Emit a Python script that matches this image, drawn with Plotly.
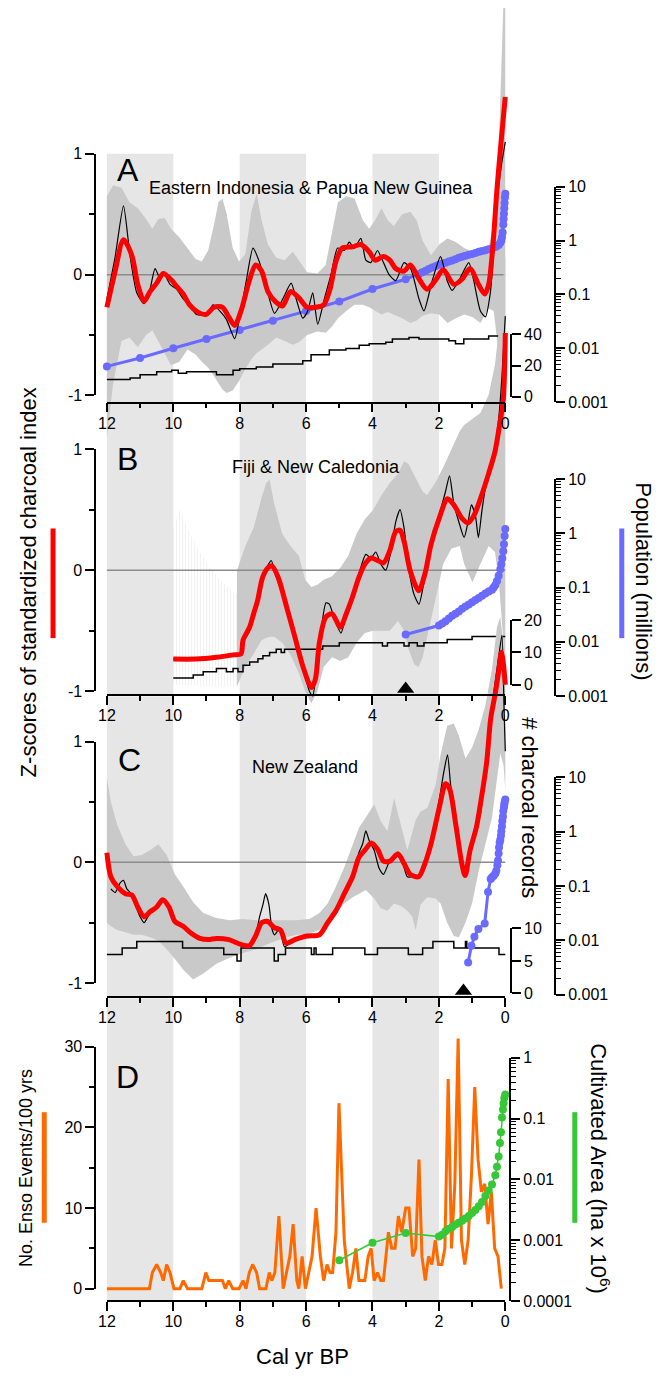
import plotly.graph_objects as go

W, H = 663, 1376

# ======================= DATA =======================
x_tick_vals = [0, 2, 4, 6, 8, 10, 12]
x_tick_text = ["0", "2", "4", "6", "8", "10", "12"]
z_tick_vals = [-1, 0, 1]
z_tick_text = ["-1", "0", "1"]
band_spans = [(12, 10), (8, 6), (4, 2)]

# ---- Panel A : Eastern Indonesia & Papua New Guinea ----
a_red_bp = [12.0, 11.75, 11.5, 11.25, 11.07, 10.88, 10.7, 10.5, 10.3, 10.07, 9.89, 9.7, 9.51, 9.26, 9.02, 8.77, 8.52, 8.33, 8.15, 7.96,
            7.71, 7.52, 7.34, 7.15, 6.9, 6.71, 6.47, 6.22, 5.97, 5.72, 5.47, 5.28, 5.1, 4.91, 4.6, 4.35, 4.1, 3.92, 3.67, 3.48,
            3.3, 3.05, 2.86, 2.61, 2.36, 2.11, 1.87, 1.55, 1.31, 1.06, 0.81, 0.62, 0.5, 0.37, 0.25, 0.12, 0.0]
a_red_z = [-0.27, 0.03, 0.29, 0.16, -0.08, -0.22, -0.14, -0.07, 0.01, -0.04, -0.10, -0.16, -0.25, -0.31, -0.33, -0.27, -0.27, -0.35, -0.42, -0.30,
           -0.05, 0.08, 0.03, -0.14, -0.23, -0.26, -0.14, -0.19, -0.27, -0.27, -0.25, -0.12, 0.11, 0.22, 0.23, 0.25, 0.19, 0.12, 0.15, 0.12,
           0.05, 0.03, 0.08, -0.03, -0.12, -0.05, 0.04, -0.08, -0.04, 0.05, -0.08, -0.16, -0.08, 0.25, 0.71, 1.12, 1.47]
a_blk_bp = [12.0, 11.75, 11.5, 11.3, 11.1, 10.88, 10.7, 10.55, 10.4, 10.3, 10.1, 9.9, 9.7, 9.5, 9.3, 9.0, 8.8, 8.6, 8.4, 8.15,
            8.0, 7.8, 7.6, 7.4, 7.2, 6.95, 6.7, 6.45, 6.3, 6.1, 5.95, 5.8, 5.65, 5.45, 5.25, 5.05, 4.85, 4.7, 4.55, 4.35,
            4.2, 4.05, 3.85, 3.7, 3.5, 3.3, 3.05, 2.85, 2.6, 2.45, 2.2, 1.95, 1.75, 1.6, 1.4, 1.1, 0.95, 0.75, 0.6, 0.45,
            0.35, 0.25, 0.12, 0.0]
a_blk_z = [-0.2, 0.15, 0.57, 0.15, -0.15, -0.24, -0.12, 0.05, -0.03, 0.02, -0.08, -0.12, -0.2, -0.26, -0.33, -0.33, -0.25, -0.3, -0.37, -0.53,
           -0.35, -0.05, 0.22, 0.1, -0.1, -0.32, -0.2, -0.07, -0.2, -0.36, -0.3, -0.15, -0.41, -0.2, 0.0, 0.22, 0.2, 0.27, 0.22, 0.3,
           0.12, 0.1, 0.2, 0.12, 0.0, -0.05, 0.1, 0.05, -0.2, -0.3, -0.05, 0.15, -0.05, -0.13, -0.05, 0.1, -0.05, -0.3, -0.35, -0.15,
           0.2, 0.6, 0.9, 1.1]
a_env_bp = [12.0, 11.81, 11.56, 11.32, 11.07, 10.82, 10.63, 10.45, 10.26, 10.07, 9.82, 9.57, 9.33, 9.14, 8.95, 8.77, 8.64, 8.52, 8.39, 8.21,
            8.02, 7.83, 7.65, 7.49, 7.34, 7.15, 6.9, 6.65, 6.4, 6.22, 5.97, 5.66, 5.41, 5.22, 5.04, 4.79, 4.54, 4.29, 4.1, 3.92,
            3.73, 3.54, 3.36, 3.11, 2.86, 2.67, 2.49, 2.24, 1.99, 1.74, 1.49, 1.24, 0.99, 0.75, 0.5, 0.35, 0.22, 0.12, 0.05, 0.0]
a_env_up = [0.65, 0.74, 0.72, 0.6, 0.55, 0.46, 0.38, 0.46, 0.47, 0.38, 0.31, 0.22, 0.13, 0.11, 0.2, 0.42, 0.6, 0.63, 0.5, 0.22,
            0.11, 0.17, 0.52, 0.67, 0.45, 0.25, 0.14, 0.12, 0.19, 0.12, 0.02, 0.01, 0.08, 0.35, 0.6, 0.65, 0.63, 0.45, 0.38, 0.45,
            0.55, 0.45, 0.4, 0.5, 0.52, 0.45, 0.28, 0.16, 0.25, 0.3, 0.27, 0.22, 0.19, 0.16, 0.22, 0.45, 0.85, 1.6, 2.3, 2.4]
a_env_lo = [-1.35, -0.9, -0.55, -0.52, -0.6, -0.5, -0.46, -0.55, -0.65, -0.75, -0.72, -0.62, -0.66, -0.72, -0.77, -0.84, -0.9, -0.95, -0.98, -0.96,
            -0.88, -0.78, -0.7, -0.65, -0.62, -0.58, -0.52, -0.55, -0.58, -0.56, -0.5, -0.47, -0.48, -0.43, -0.36, -0.3, -0.25, -0.25, -0.27, -0.3,
            -0.33, -0.31, -0.33, -0.36, -0.4, -0.38, -0.34, -0.32, -0.33, -0.4, -0.36, -0.33, -0.35, -0.4, -0.28, -0.3, -0.6, -1.0, -1.25, -1.3]
a_cnt_bp = [12.0, 11.3, 11.0, 10.5, 10.05, 9.85, 9.6, 8.7, 8.2, 8.0, 7.5, 7.0, 6.2, 6.1, 5.85, 5.3, 4.8, 4.4, 4.1, 3.6,
            3.4, 2.9, 2.6, 1.7, 1.5, 1.25, 0.5, 0.0]
a_cnt = [11, 12, 14, 16, 17, 15, 16, 14, 17, 18, 19, 21, 21, 23, 27, 30, 31, 33, 34, 35,
         37, 38, 37, 36, 34, 37, 39, 39]
a_pop_bp = [12, 11, 10, 9, 8, 7, 6, 5, 4, 3, 2.6, 2.5, 2.4, 2.3, 2.2, 2.1, 2.0, 1.9, 1.8, 1.7, 1.6, 1.5, 1.4, 1.3, 1.2, 1.1, 1.0,
            0.9, 0.8, 0.7, 0.6, 0.5, 0.4, 0.3, 0.25, 0.2, 0.15, 0.12, 0.1, 0.08, 0.06, 0.05, 0.04, 0.03, 0.02, 0.01, 0.0]
a_pop = [0.0046, 0.0066, 0.0100, 0.0148, 0.0219, 0.0324, 0.049, 0.074, 0.126, 0.191, 0.240, 0.257, 0.275, 0.295, 0.316, 0.335, 0.355,
         0.372, 0.389, 0.407, 0.427, 0.452, 0.479, 0.501, 0.525, 0.543, 0.562, 0.589, 0.617, 0.638, 0.661, 0.692, 0.724, 0.759, 0.794,
         0.832, 0.912, 1.0, 1.15, 1.41, 2.0, 2.51, 3.16, 3.98, 5.01, 6.31, 7.41]

# ---- Panel B : Fiji & New Caledonia ----
b_red_bp = [10.0, 9.33, 8.7, 8.2, 7.96, 7.9, 7.7, 7.58, 7.46, 7.31, 7.15, 7.03, 6.84, 6.59, 6.34, 6.09, 5.84, 5.72, 5.6, 5.41,
            5.22, 4.97, 4.79, 4.6, 4.41, 4.23, 4.04, 3.85, 3.67, 3.48, 3.3, 3.17, 3.05, 2.86, 2.61, 2.42, 2.24, 1.99, 1.74, 1.55,
            1.31, 1.12, 0.93, 0.75, 0.5, 0.31, 0.19, 0.06, 0.0]
b_red_z = [-0.735, -0.735, -0.72, -0.70, -0.69, -0.58, -0.47, -0.36, -0.25, -0.06, 0.02, 0.035, -0.06, -0.3, -0.55, -0.8, -0.97, -0.9, -0.6, -0.39,
           -0.36, -0.47, -0.36, -0.22, -0.06, 0.05, 0.1, 0.08, 0.06, 0.16, 0.32, 0.33, 0.24, -0.01, -0.17, -0.03, 0.21, 0.43, 0.59, 0.54,
           0.43, 0.39, 0.46, 0.59, 0.8, 0.98, 1.17, 1.41, 1.96]
b_blk_bp = [10.0, 9.33, 8.7, 8.2, 7.96, 7.9, 7.7, 7.58, 7.46, 7.31, 7.15, 7.05, 6.9, 6.6, 6.34, 6.09, 5.9, 5.8, 5.7, 5.55,
            5.4, 5.3, 5.15, 4.95, 4.8, 4.6, 4.4, 4.2, 4.05, 3.9, 3.75, 3.6, 3.45, 3.3, 3.17, 3.05, 2.9, 2.75, 2.6, 2.45,
            2.25, 2.0, 1.8, 1.68, 1.55, 1.4, 1.24, 1.12, 1.02, 0.9, 0.81, 0.7, 0.5, 0.35, 0.2, 0.1, 0.0]
b_blk_z = [-0.735, -0.735, -0.72, -0.70, -0.69, -0.6, -0.5, -0.38, -0.25, -0.04, 0.04, 0.08, -0.05, -0.3, -0.56, -0.82, -1.0, -1.04, -0.85, -0.5,
           -0.27, -0.28, -0.4, -0.52, -0.38, -0.2, -0.02, 0.13, 0.1, 0.15, 0.05, 0.0, 0.15, 0.4, 0.5, 0.35, 0.0, -0.2, -0.28, -0.1,
           0.2, 0.45, 0.65, 0.78, 0.55, 0.4, 0.27, 0.4, 0.54, 0.45, 0.27, 0.5, 0.84, 0.95, 1.25, 1.6, 2.1]
b_env_bp = [8.08, 7.83, 7.58, 7.34, 7.2, 7.1, 6.96, 6.72, 6.47, 6.22, 6.03, 5.84, 5.66, 5.47, 5.22, 4.97, 4.73, 4.48, 4.23, 3.98,
            3.73, 3.48, 3.23, 3.05, 2.92, 2.74, 2.61, 2.49, 2.36, 2.11, 1.87, 1.62, 1.37, 1.24, 0.99, 0.75, 0.5, 0.31, 0.19, 0.1, 0.0]
b_env_up = [0.0, 0.2, 0.35, 0.6, 0.72, 0.75, 0.55, 0.3, 0.2, 0.12, -0.08, -0.14, -0.12, -0.08, -0.05, 0.02, 0.12, 0.3, 0.42, 0.5,
            0.62, 0.72, 0.8, 0.9, 0.88, 0.78, 0.72, 0.65, 0.62, 0.72, 0.85, 1.0, 1.15, 1.2, 1.25, 1.3, 1.45, 1.7, 2.0, 2.3, 2.6]
b_env_lo = [-0.96, -0.8, -0.69, -0.58, -0.56, -0.55, -0.55, -0.6, -0.7, -0.85, -1.0, -1.1, -1.0, -0.8, -0.72, -0.75, -0.72, -0.6, -0.52, -0.5,
            -0.5, -0.5, -0.42, -0.5, -0.65, -0.78, -0.8, -0.72, -0.55, -0.25, 0.05, 0.18, 0.2, 0.05, -0.1, 0.05, 0.2, 0.15, -0.1, -0.4, -0.8]
b_str_bp = [10.0, 9.8, 9.5, 9.2, 8.9, 8.6, 8.3, 8.08]
b_str_up = [0.35, 0.5, 0.3, 0.15, 0.02, -0.08, -0.15, -0.2]
b_str_lo = [-0.95, -0.95, -0.95, -0.96, -0.96, -0.96, -0.96, -0.96]
b_cnt_bp = [10.0, 9.4, 9.1, 8.7, 8.4, 8.2, 8.05, 7.9, 7.7, 7.45, 7.3, 7.1, 6.9, 6.75, 6.65, 5.5, 5.0, 3.7, 3.55, 3.05,
            2.9, 2.65, 2.45, 1.75, 1.0, 0.0]
b_cnt = [2, 3, 4, 5, 4, 5, 4, 6, 7, 8, 9, 10, 11, 10, 11, 12, 13, 12, 13, 12,
         13, 12, 13, 14, 15, 15]
b_pop_bp = [3.0, 2.0, 1.9, 1.8, 1.7, 1.6, 1.5, 1.4, 1.3, 1.2, 1.1, 1.0, 0.9, 0.8, 0.7, 0.6, 0.5, 0.4, 0.35, 0.3,
            0.25, 0.2, 0.15, 0.12, 0.09, 0.06, 0.04, 0.02, 0.0]
b_pop = [0.0137, 0.0200, 0.0219, 0.0240, 0.0269, 0.0302, 0.0331, 0.0363, 0.0407, 0.0447, 0.0490, 0.0537, 0.0589, 0.0646, 0.0708,
         0.0776, 0.0851, 0.0912, 0.100, 0.112, 0.132, 0.166, 0.219, 0.269, 0.347, 0.468, 0.631, 0.891, 1.20]
b_tri_bp = [3.0]

# ---- Panel C : New Zealand ----
c_red_bp = [12.0, 11.88, 11.69, 11.44, 11.25, 11.07, 10.88, 10.7, 10.5, 10.32, 10.13, 9.95, 9.7, 9.45, 9.2, 8.95, 8.7, 8.33, 7.96, 7.71,
            7.52, 7.34, 7.15, 6.96, 6.77, 6.6, 6.34, 5.97, 5.6, 5.35, 5.1, 4.85, 4.6, 4.41, 4.23, 4.04, 3.85, 3.67, 3.48, 3.23,
            3.05, 2.86, 2.61, 2.42, 2.24, 1.99, 1.8, 1.68, 1.49, 1.31, 1.21, 1.06, 0.87, 0.75, 0.56, 0.44, 0.3, 0.2, 0.12, 0.06, 0.0]
c_red_z = [0.08, -0.12, -0.2, -0.26, -0.27, -0.37, -0.45, -0.41, -0.37, -0.31, -0.37, -0.49, -0.53, -0.59, -0.63, -0.64, -0.63, -0.64, -0.68, -0.69,
           -0.61, -0.5, -0.49, -0.54, -0.56, -0.67, -0.64, -0.61, -0.6, -0.5, -0.4, -0.26, -0.12, 0.04, 0.1, 0.16, 0.11, 0.01, 0.01, 0.07,
           -0.01, -0.1, -0.12, -0.01, 0.15, 0.45, 0.65, 0.61, 0.31, -0.01, -0.11, 0.1, 0.29, 0.48, 0.83, 1.19, 1.4, 1.58, 1.74, 1.65, 1.47]
c_blk_bp = [11.88, 11.75, 11.6, 11.5, 11.4, 11.3, 11.15, 11.0, 10.88, 10.7, 10.5, 10.32, 10.13, 9.95, 9.7, 9.45, 9.2, 8.95, 8.7, 8.33,
            7.96, 7.71, 7.52, 7.4, 7.3, 7.22, 7.12, 7.03, 6.95, 6.8, 6.65, 6.4, 5.97, 5.6, 5.35, 5.1, 4.85, 4.6, 4.41, 4.3,
            4.2, 4.1, 3.95, 3.8, 3.67, 3.5, 3.3, 3.1, 2.95, 2.8, 2.61, 2.42, 2.24, 2.0, 1.85, 1.74, 1.65, 1.49, 1.31, 1.21,
            1.1, 0.95, 0.85, 0.75, 0.62, 0.5, 0.35, 0.2, 0.1, 0.04, 0.0]
c_blk_z = [-0.22, -0.25, -0.17, -0.15, -0.22, -0.25, -0.35, -0.45, -0.5, -0.42, -0.37, -0.31, -0.37, -0.5, -0.54, -0.6, -0.63, -0.64, -0.63, -0.64,
           -0.69, -0.68, -0.6, -0.45, -0.35, -0.26, -0.35, -0.55, -0.6, -0.55, -0.7, -0.65, -0.61, -0.6, -0.5, -0.4, -0.26, -0.12, 0.08, 0.15,
           0.26, 0.18, 0.1, -0.05, -0.1, 0.0, 0.07, 0.0, -0.12, -0.12, -0.12, -0.01, 0.18, 0.5, 0.75, 0.89, 0.65, 0.3, -0.02, -0.12,
           0.05, 0.25, 0.35, 0.4, 0.75, 1.05, 1.4, 1.7, 1.88, 1.3, 0.92]
c_env_bp = [12.0, 11.88, 11.69, 11.44, 11.2, 10.95, 10.7, 10.45, 10.2, 9.95, 9.7, 9.4, 9.1, 8.7, 8.3, 7.9, 7.5, 7.1, 6.7, 6.3,
            5.9, 5.6, 5.35, 5.1, 4.85, 4.6, 4.4, 4.2, 3.95, 3.75, 3.55, 3.35, 3.15, 2.95, 2.8, 2.7, 2.55, 2.35, 2.1, 1.95,
            1.75, 1.55, 1.4, 1.2, 1.0, 0.8, 0.6, 0.4, 0.25, 0.15, 0.05, 0.0]
c_env_up = [0.7, 0.5, 0.31, 0.15, 0.05, 0.06, 0.1, 0.15, 0.06, -0.1, -0.2, -0.33, -0.42, -0.46, -0.48, -0.47, -0.48, -0.48, -0.48, -0.48,
            -0.47, -0.42, -0.34, -0.2, -0.04, 0.15, 0.29, 0.37, 0.48, 0.34, 0.26, 0.53, 0.32, 0.1, 0.25, 0.35, 0.42, 0.45, 0.64, 0.89,
            1.13, 1.15, 1.05, 0.86, 0.95, 1.1, 1.3, 1.6, 1.95, 2.03, 1.8, 1.6]
c_env_lo = [-0.5, -0.53, -0.56, -0.58, -0.6, -0.6, -0.62, -0.65, -0.72, -0.8, -0.89, -0.97, -0.92, -0.84, -0.79, -0.75, -0.72, -0.67, -0.63, -0.6,
            -0.59, -0.56, -0.5, -0.42, -0.34, -0.29, -0.26, -0.23, -0.3, -0.38, -0.4, -0.34, -0.36, -0.4, -0.45, -0.56, -0.35, -0.29, -0.3, -0.34,
            -0.5, -0.61, -0.62, -0.5, -0.34, -0.07, 0.15, 0.37, 0.7, 0.9, 0.8, 0.6]
c_cnt_bp = [12.0, 11.54, 11.1, 9.72, 8.48, 8.08, 7.96, 6.96, 6.84, 6.62, 5.84, 5.76, 5.7, 5.2, 4.23, 3.85, 2.92, 2.49, 2.18, 1.55,
            1.2, 1.16, 0.19, 0.0]
c_cnt = [6, 7, 8, 7, 6, 5, 7, 5, 6, 7, 6, 7, 6, 7, 6, 7, 6, 7, 8, 7,
         8, 7, 6, 6]
c_pop_bp = [1.12, 1.02, 0.93, 0.81, 0.62, 0.52, 0.44, 0.4, 0.35, 0.3, 0.27, 0.24, 0.22, 0.2, 0.19, 0.17, 0.15, 0.13, 0.12, 0.1,
            0.09, 0.07, 0.06, 0.04, 0.03, 0.02, 0.0]
c_pop = [0.00389, 0.00794, 0.0117, 0.0162, 0.0204, 0.0776, 0.135, 0.145, 0.155, 0.17, 0.191, 0.24, 0.295, 0.398, 0.513, 0.631, 0.708, 0.851, 1.02, 1.26,
         1.58, 1.91, 2.4, 2.82, 3.16, 3.47, 3.9]
c_tri_bp = [1.26]

# ---- Panel D : ENSO events and cultivated area ----
d_enso_bp = [12.0, 10.72, 10.63, 10.5, 10.38, 10.3, 10.2, 10.1, 9.98, 9.8, 9.7, 9.57, 9.14, 9.02, 8.93, 8.52, 8.43, 8.33, 8.21, 8.02,
             7.9, 7.81, 7.71, 7.61, 7.49, 7.4, 7.21, 7.11, 7.03, 6.94, 6.82, 6.69, 6.59, 6.49, 6.39, 6.28, 6.22, 6.12, 6.02, 5.91,
             5.82, 5.7, 5.57, 5.47, 5.37, 5.28, 5.2, 5.1, 5.01, 4.85, 4.7, 4.6, 4.5, 4.41, 4.23, 4.13, 4.04, 3.95, 3.85, 3.75,
             3.67, 3.52, 3.42, 3.32, 3.22, 3.12, 3.0, 2.9, 2.79, 2.7, 2.6, 2.51, 2.41, 2.31, 2.21, 2.11, 2.01, 1.91, 1.82, 1.72,
             1.62, 1.52, 1.42, 1.32, 1.22, 1.12, 1.02, 0.92, 0.82, 0.72, 0.62, 0.52, 0.42, 0.32, 0.22, 0.12]
d_enso = [0, 0, 2, 3, 2, 1, 3, 2, 0, 0, 1, 0, 0, 2, 1, 1, 0, 1, 0, 0,
          1, 0, 2, 3, 2, 0, 0, 2, 1, 2, 9, 0, 2, 4, 8, 1, 0, 4, 0, 2,
          4, 10, 4, 1, 3, 2, 2, 7, 23, 6, 0, 2, 5, 1, 1, 4, 5, 1, 2, 1,
          1, 7, 5, 5, 9, 7, 10, 10, 4, 5, 16, 4, 1, 4, 3, 6, 3, 3, 5, 26,
          5, 13, 31, 6, 3, 6, 14, 25, 16, 12, 13, 8, 12, 5, 4, 0]
d_cult_bp = [5.0, 4.0, 3.0, 2.0, 1.9, 1.8, 1.7, 1.6, 1.5, 1.4, 1.3, 1.2, 1.1, 1.0, 0.9, 0.8, 0.7, 0.6, 0.5, 0.4,
             0.3, 0.25, 0.2, 0.16, 0.13, 0.1, 0.07, 0.05, 0.03, 0.0]
d_cult = [0.00047, 0.00091, 0.00132, 0.00115, 0.00123, 0.00141, 0.00155, 0.00166, 0.00182, 0.00195, 0.00209, 0.00229, 0.00251, 0.00282,
          0.00316, 0.00363, 0.00427, 0.00537, 0.0066, 0.0083, 0.0117, 0.0162, 0.024, 0.040, 0.060, 0.105, 0.141, 0.178, 0.219, 0.251]

# ======================= STYLE / GEOMETRY =======================
TICKFONT = dict(family="Liberation Sans, Arial, sans-serif", size=16, color="black")
TXT = "Liberation Sans, Arial, sans-serif"
RED, BLUE, ORANGE, GREEN = "#ff0000", "#6a6aff", "#ff6a00", "#36c836"
ENV, BAND, ZERO = "#c9c9c9", "#e6e6e6", "#8c8c8c"

X12, X0 = 100.0, 507.0
PPU = (X0 - X12) / 12.0
LEFT_AX, CNT_AX, LOG_AX, D_LOG_AX = 88, 513, 558, 512


def xp(p):
    return p / W


def yp(p):
    return 1 - p / H


AXLINE = dict(showline=True, linecolor="black", linewidth=1.5, ticks="outside", tickwidth=1.5,
              tickcolor="black", showgrid=False, zeroline=False, fixedrange=True, tickfont=TICKFONT)

layout = dict(width=W, height=H, margin=dict(l=0, r=0, t=0, b=0), paper_bgcolor="white",
              plot_bgcolor="rgba(0,0,0,0)", showlegend=False, hovermode=False)

layout["xaxis"] = dict(domain=[xp(90), xp(520)], range=[(X0 - 90) / PPU, (X0 - 520) / PPU],
                       visible=False, anchor="free", position=0, fixedrange=True)


def vis_x(line_px):
    return dict(AXLINE, domain=[xp(X12), xp(X0)], range=[12, 0], anchor="free", position=yp(line_px),
                side="bottom", ticklen=9, tickvals=x_tick_vals, ticktext=x_tick_text, ticklabelstandoff=-3,
                minor=dict(tickvals=[1, 3, 5, 7, 9, 11], ticks="outside", ticklen=5, tickwidth=1.5, tickcolor="black"))


def hidden_z(c, s, top, bot):
    return dict(domain=[yp(bot), yp(top)], range=[(c - bot) / s, (c - top) / s], visible=False,
                fixedrange=True, anchor="free", position=0)


def left_z(c, s):
    return dict(AXLINE, domain=[yp(c + s), yp(c - s)], range=[-1, 1], anchor="free", position=xp(LEFT_AX),
                side="left", ticklen=9, tickvals=z_tick_vals, ticktext=z_tick_text,
                minor=dict(tickvals=[-0.5, 0.5], ticks="outside", ticklen=5, tickwidth=1.5, tickcolor="black"))


def cnt_axis(p0, pmax, vmax, step):
    return dict(AXLINE, domain=[yp(p0), yp(pmax)], range=[0, vmax], anchor="free", position=xp(CNT_AX),
                side="right", ticklen=9, tickvals=list(range(0, vmax + 1, step)))


def log_axis(plo, phi, elo, ehi, xpos):
    vals = [10.0 ** e for e in range(elo, ehi + 1)]
    txt = [("%g" % v) for v in vals]
    minors = [m * 10.0 ** e for e in range(elo, ehi) for m in range(2, 10)]
    return dict(AXLINE, type="log", domain=[yp(plo), yp(phi)], range=[elo, ehi], anchor="free",
                position=xp(xpos), side="right", ticklen=9, tickvals=vals, ticktext=txt,
                minor=dict(tickvals=minors, ticks="outside", ticklen=5, tickwidth=1.2, tickcolor="black"))


panels = [
    dict(c=270.0, s=122.3, axl=399.5, band=(147.5, 399.5), dom=(0, 700), cnt=(393.5, 330.5, 40, 20), log=(399.0, 181.0)),
    dict(c=569.2, s=122.5, axl=696.0, band=(400.5, 696.0), dom=(150, 1000), cnt=(685.0, 620.0, 20, 10), log=(696.7, 477.0)),
    dict(c=865.0, s=122.3, axl=1001.7, band=(697.0, 1001.7), dom=(450, 1300), cnt=(997.7, 932.0, 10, 5), log=(999.0, 779.0)),
]

shapes = []
for i, P in enumerate(panels):
    k = 5 * i
    layout["xaxis%d" % (i + 2)] = vis_x(P["axl"])
    layout["yaxis" if i == 0 else "yaxis%d" % (k + 1)] = left_z(P["c"], P["s"])
    layout["yaxis%d" % (k + 2)] = hidden_z(P["c"], P["s"], *P["dom"])
    layout["yaxis%d" % (k + 3)] = cnt_axis(*P["cnt"])
    layout["yaxis%d" % (k + 4)] = log_axis(P["log"][0], P["log"][1], -3, 1, LOG_AX)
    layout["yaxis%d" % (k + 5)] = hidden_z(P["c"], P["s"], *P["dom"])
    for a, b in band_spans:
        shapes.append(dict(type="rect", xref="x", yref="paper", x0=a, x1=b, y0=yp(P["band"][1]), y1=yp(P["band"][0]),
                           fillcolor=BAND, line_width=0, layer="below"))

# Panel D axes
D0, D30 = 1296.7, 1051.7
DS = (D0 - D30) / 30.0
layout["xaxis5"] = vis_x(1309.0)
layout["yaxis16"] = dict(AXLINE, domain=[yp(D0), yp(D30)], range=[0, 30], anchor="free", position=xp(LEFT_AX),
                         side="left", ticklen=9, tickvals=[0, 10, 20, 30],
                         minor=dict(tickvals=[5, 15, 25], ticks="outside", ticklen=5, tickwidth=1.5, tickcolor="black"))
layout["yaxis17"] = dict(domain=[yp(1376), yp(990)], range=[(D0 - 1376) / DS, (D0 - 990) / DS], visible=False,
                         fixedrange=True, anchor="free", position=0)
layout["yaxis18"] = log_axis(1309.3, 1063.0, -4, 0, D_LOG_AX)
for a, b in band_spans:
    shapes.append(dict(type="rect", xref="x", yref="paper", x0=a, x1=b, y0=yp(1309.0), y1=yp(1003.0),
                       fillcolor=BAND, line_width=0, layer="below"))

# legend colour bars next to axis titles
for xpx, y0, y1, col in [(45, 527, 638, RED), (626, 527, 638, BLUE), (36, 1118, 1230, ORANGE), (578, 1118, 1230, GREEN)]:
    shapes.append(dict(type="line", xref="paper", yref="paper", x0=xp(xpx), x1=xp(xpx), y0=yp(y0), y1=yp(y1),
                       line=dict(color=col, width=5)))
layout["shapes"] = shapes


def ann(text, x, y, size, angle=0, family=TXT):
    return dict(text=text, x=xp(x), y=yp(y), xref="paper", yref="paper", showarrow=False, xanchor="center",
                yanchor="middle", textangle=angle, font=dict(family=family, size=size, color="black"))


layout["annotations"] = [
    ann("A", 122, 164, 32), ann("B", 121, 457, 32), ann("C", 123, 761, 32), ann("D", 121, 1082, 32),
    ann("Eastern Indonesia &amp; Papua New Guinea", 309, 182, 18),
    ann("Fiji &amp; New Caledonia", 314, 465, 18),
    ann("New Zealand", 302, 769, 18),
    ann("Z-scores of standardized charcoal index", 20, 582, 22, -90),
    ann("Population (millions)", 648, 581, 22, 90),
    ann("# charcoal records", 531, 810, 22, 90),
    ann("No. Enso Events/100 yrs", 18, 1175, 18, -90),
    ann("Cultivated Area (ha x 10<sup>6</sup>)", 603, 1175, 22, 90),
    ann("Cal yr BP", 300, 1365, 22),
]

fig = go.Figure(layout=layout)


def env_trace(bp, up, lo, ya, **kw):
    return go.Scatter(x=list(bp) + list(bp)[::-1], y=list(up) + list(lo)[::-1], xaxis="x", yaxis=ya,
                      mode="lines", fill="toself", line=dict(width=0), hoverinfo="skip", **kw)


def line(x, y, ya, color, width, xa="x", shape="linear", smoothing=None):
    ln = dict(color=color, width=width, shape=shape)
    if smoothing is not None:
        ln["smoothing"] = smoothing
    return go.Scatter(x=x, y=y, xaxis=xa, yaxis=ya, mode="lines", line=ln, hoverinfo="skip")


def dummy(xa, ya):
    return go.Scatter(x=[6], y=[0], xaxis=xa, yaxis=ya, mode="markers", marker=dict(opacity=0), hoverinfo="skip")


series = [
    dict(red=(a_red_bp, a_red_z), blk=(a_blk_bp, a_blk_z), env=(a_env_bp, a_env_up, a_env_lo),
         cnt=(a_cnt_bp, a_cnt), pop=(a_pop_bp, a_pop), tri=None, stripes=None),
    dict(red=(b_red_bp, b_red_z), blk=(b_blk_bp, b_blk_z), env=(b_env_bp, b_env_up, b_env_lo),
         cnt=(b_cnt_bp, b_cnt), pop=(b_pop_bp, b_pop), tri=b_tri_bp, stripes=(b_str_bp, b_str_up, b_str_lo)),
    dict(red=(c_red_bp, c_red_z), blk=(c_blk_bp, c_blk_z), env=(c_env_bp, c_env_up, c_env_lo),
         cnt=(c_cnt_bp, c_cnt), pop=(c_pop_bp, c_pop), tri=c_tri_bp, stripes=None),
]

for i, (P, S) in enumerate(zip(panels, series)):
    k = 5 * i
    yl = "y" if i == 0 else "y%d" % (k + 1)
    ye, yc, ylog, ylin = "y%d" % (k + 2), "y%d" % (k + 3), "y%d" % (k + 4), "y%d" % (k + 5)
    fig.add_trace(dummy("x%d" % (i + 2), yl))
    if S["stripes"] is not None:
        sb, su, sl = S["stripes"]
        fig.add_trace(go.Scatter(x=list(sb) + list(sb)[::-1], y=list(su) + list(sl)[::-1], xaxis="x", yaxis=ye,
                                 mode="lines", fill="toself", line=dict(width=0), fillcolor="rgba(0,0,0,0)",
                                 fillpattern=dict(shape="|", fgcolor="#e0e0e0", bgcolor="rgba(0,0,0,0)", size=3, solidity=0.3),
                                 hoverinfo="skip"))
    fig.add_trace(env_trace(*S["env"], ye, fillcolor=ENV))
    fig.add_trace(line([12, 0], [0, 0], ye, ZERO, 1.5))
    fig.add_trace(line(S["cnt"][0], S["cnt"][1], yc, "black", 1.5, shape="hv"))
    fig.add_trace(go.Scatter(x=S["pop"][0], y=S["pop"][1], xaxis="x", yaxis=ylog, mode="lines+markers",
                             line=dict(color=BLUE, width=3), marker=dict(color=BLUE, size=8), cliponaxis=False,
                             hoverinfo="skip"))
    fig.add_trace(line(S["blk"][0], S["blk"][1], ylin, "black", 1.2, shape="spline", smoothing=0.6))
    fig.add_trace(line(S["red"][0], S["red"][1], ylin, RED, 5, shape="spline", smoothing=0.8))
    if S["tri"] is not None:
        tri_z = (P["c"] - (P["axl"] - 6.5)) / P["s"]
        fig.add_trace(go.Scatter(x=S["tri"], y=[tri_z] * len(S["tri"]), xaxis="x", yaxis=ylin, mode="markers",
                                 marker=dict(symbol="triangle-up", size=15, color="black"), hoverinfo="skip"))

# Panel D traces
fig.add_trace(dummy("x5", "y16"))
fig.add_trace(line(d_enso_bp, d_enso, "y17", ORANGE, 3))
fig.add_trace(go.Scatter(x=d_cult_bp, y=d_cult, xaxis="x", yaxis="y18", mode="lines+markers",
                         line=dict(color=GREEN, width=1.5), marker=dict(color=GREEN, size=8), cliponaxis=False,
                         hoverinfo="skip"))

fig.write_html("out.html")
